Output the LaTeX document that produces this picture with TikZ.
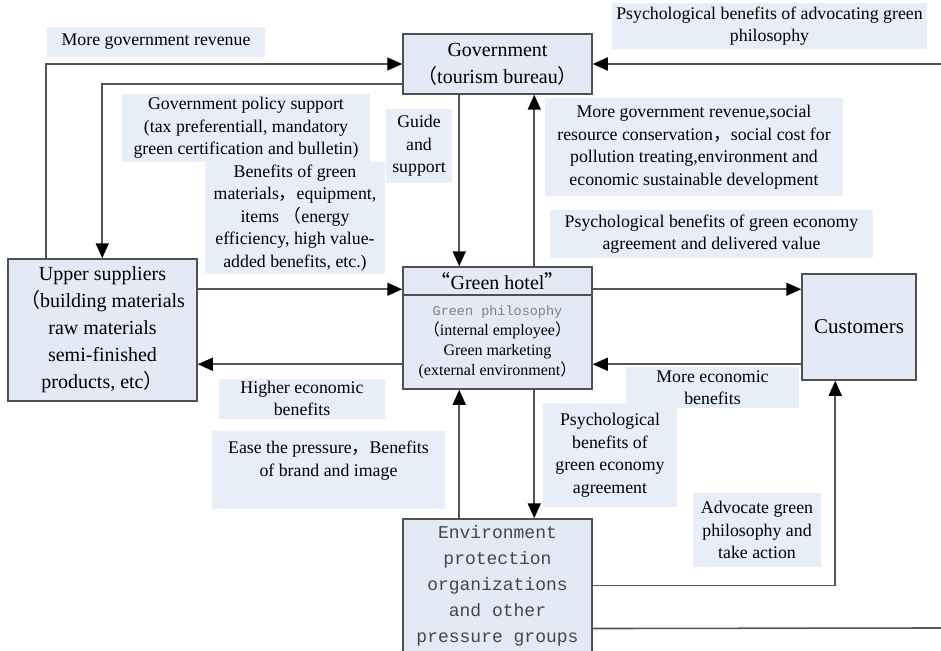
\documentclass[tikz,border=0pt]{standalone}
\usepackage{fontspec}
\setmainfont{Liberation Serif}
\setmonofont{Liberation Mono}
\newfontfamily\cjk{Noto Sans CJK SC}
\usetikzlibrary{arrows.meta}
\newcommand{\zlp}{{\cjk （}}
\newcommand{\zrp}{{\cjk ）}}
\newcommand{\zcm}{{\cjk ，}}
\newcommand{\zlq}{{\cjk “}}
\newcommand{\zrq}{{\cjk ”}}
\definecolor{boxfill}{RGB}{227,234,246}
\definecolor{labfill}{RGB}{232,238,248}
\definecolor{boxline}{RGB}{80,80,80}
\definecolor{arrline}{RGB}{85,85,85}
\definecolor{monotext}{RGB}{70,70,70}

\begin{document}
\begin{tikzpicture}[x=1pt, y=-1pt]
  \tikzstyle{box}=[draw=boxline, fill=boxfill, line width=1.5pt, align=center, inner sep=0pt, font=\fontsize{20}{27}\selectfont]
  \tikzstyle{lab}=[fill=labfill, align=center, inner sep=0pt, font=\fontsize{17.8}{22.5}\selectfont]
  \tikzstyle{trans}=[line width=1.6pt, draw=arrline, -{Triangle[length=15pt, width=13pt, color=black]}]
  \tikzstyle{line}=[line width=1.6pt, draw=arrline]

\useasboundingbox (0,0) rectangle (941,650);

\node [box, minimum width=189pt, minimum height=60pt] (gov) at (497.5,64) {Government\\\zlp tourism bureau\zrp};
\node [box, minimum width=189pt, minimum height=28pt] (hot_t) at (497.5,281) {\zlq Green hotel\zrq};
\node [box, minimum width=189pt, minimum height=94pt, font=\fontsize{16}{20}\selectfont] (hot_b) at (497.5,342)
  {{\ttfamily\color{gray}\fontsize{13.5}{20}\selectfont Green philosophy}\\\zlp internal employee\zrp\\Green marketing\\(external environment\zrp};
\node [box, minimum width=189pt, minimum height=142pt] (sup) at (102.5,330)
  {Upper suppliers\\\zlp building materials\\raw materials\\semi-finished\\products, etc\zrp};
\node [box, minimum width=114pt, minimum height=106pt, font=\fontsize{21}{27}\selectfont] (cust) at (859,327) {Customers};
\node [box, minimum width=189pt, minimum height=133pt, text=monotext, font=\ttfamily\fontsize{18}{26}\selectfont] (env) at (497.5,585.5)
  {Environment\\protection\\organizations\\and other\\pressure groups};

\node [lab, minimum width=218pt, minimum height=30pt] (l_rev) at (156,42) {More government revenue};
\node [lab, minimum width=248pt, minimum height=68pt] (l_pol) at (246,128) {Government policy support\\(tax preferentiall, mandatory\\green certification and bulletin)};
\node [lab, minimum width=66pt, minimum height=74pt] (l_gui) at (419,146) {Guide\\and\\support};
\node [lab, minimum width=180pt, minimum height=112pt] (l_mat) at (295,218) {Benefits of green\\materials\zcm equipment,\\items \zlp energy\\efficiency, high value-\\added benefits, etc.)};
\node [lab, minimum width=315pt, minimum height=46pt] (l_adv) at (769.5,26) {Psychological benefits of advocating green\\philosophy};
\node [lab, minimum width=298pt, minimum height=98pt] (l_soc) at (694,147) {More government revenue,social\\resource conservation\zcm social cost for\\pollution treating,environment and\\economic sustainable development};
\node [lab, minimum width=323pt, minimum height=48pt] (l_val) at (711.5,234) {Psychological benefits of green economy\\agreement and delivered value};
\node [lab, minimum width=166pt, minimum height=40pt] (l_hig) at (302,398.5) {Higher economic\\benefits};
\node [lab, minimum width=233pt, minimum height=78pt] (l_eas) at (328.5,470) {Ease the pressure\zcm Benefits\\of brand and image\\\mbox{}};
\node [lab, minimum width=173pt, minimum height=41pt] (l_eco) at (712.5,387.5) {More economic\\benefits};
\node [lab, minimum width=134pt, minimum height=104pt] (l_psy) at (610,455) {Psychological\\benefits of\\green economy\\agreement};
\node [lab, minimum width=128pt, minimum height=74pt] (l_act) at (757,530) {Advocate green\\philosophy and\\take action};

\coordinate (h1) at ([yshift=-23pt]hot_t.north west);
\coordinate (h2) at ([yshift=-98pt]hot_t.north west);
\coordinate (rim_t) at (941,64);
\coordinate (rim_b) at (941,628);

\draw[trans] ([xshift=39pt]sup.north west) |- (gov.west);
\draw[trans] ([yshift=-20pt]gov.west) -| ([xshift=95pt]sup.north west);
\draw[trans] ([xshift=57pt]gov.south west) -- ([xshift=57pt]hot_t.north west);
\draw[trans] ([xshift=132pt]hot_t.north west) -- ([xshift=132pt]gov.south west);
\draw[trans] (h1 -| sup.east) -- (h1);
\draw[trans] (h2) -- (h2 -| sup.east);
\draw[trans] (h1 -| hot_t.east) -- (h1 -| cust.west);
\draw[trans] (h2 -| cust.west) -- (h2 -| hot_b.east);
\draw[trans] ([xshift=57pt]env.north west) -- ([xshift=57pt]hot_b.south west);
\draw[trans] ([xshift=132pt]hot_b.south west) -- ([xshift=132pt]env.north west);
\draw[trans] (env.east) -| ([xshift=34pt]cust.south west);
\draw[trans] (rim_t) -- (gov.east);
% open end, runs off the page
\draw[line] ([yshift=-43pt]env.east) -- (rim_b);

\end{tikzpicture}
\end{document}
